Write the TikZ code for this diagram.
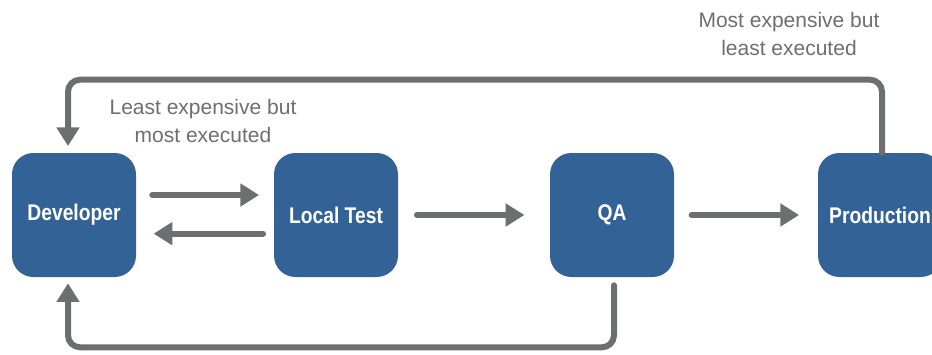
\documentclass[tikz,border=0pt]{standalone}
\usepackage{fontspec}
\setmainfont{Liberation Sans}
\newfontfamily\boxfont{Liberation Sans}[FakeStretch=0.85]
\usetikzlibrary{arrows.meta,calc,positioning}
\definecolor{boxblue}{HTML}{336296}
\definecolor{flowgray}{HTML}{6D6E70}

\begin{document}
\begin{tikzpicture}[x=0.75pt,y=-0.75pt,
  box/.style={rounded corners=16pt, minimum size=93pt, inner sep=0pt, fill=boxblue, text=white,
    font=\boxfont\bfseries\fontsize{17}{18}\selectfont},
  flow/.style={line width=4.5pt, draw=flowgray, line cap=round,
    -{Triangle[length=14pt,width=16.5pt]}},
  note/.style={align=center, text=flowgray, font=\fontsize{15.75}{21}\selectfont}]
\useasboundingbox (0,0) rectangle (932,354);
% boxes
\node[box] (dev) at (74,215) {Developer};
\node[box] (loc) at (336,215) {Local Test};
\node[box] (qa) at (612,215) {QA};
\node[box] (prod) at (880,215) {Production};
% notes
\node[note] (cheap) at (203,121) {Least expensive but\\most executed};
\node[note] (dear) at (789,34) {Most expensive but\\least executed};
% arrows
\draw[flow, shorten <=12pt, shorten >=11pt] ([yshift=15pt]dev.east) -- ([yshift=15pt]loc.west);
\draw[flow, shorten <=8pt, shorten >=13pt] ([yshift=-14pt]loc.west) -- ([yshift=-14pt]dev.east);
\draw[flow, shorten <=14pt, shorten >=19pt] (loc.east) -- (qa.west);
\draw[flow, shorten <=13pt, shorten >=14pt] (qa.east) -- (prod.west);
\draw[flow, rounded corners=9pt, shorten >=5pt] ([xshift=1.5pt]prod.north) -- ++(0,-73) -| ([xshift=-4.5pt]dev.north);
\draw[flow, rounded corners=9pt, shorten <=6pt, shorten >=4.5pt] ([xshift=1.5pt]qa.south) -- ++(0,70) -| ([xshift=-4.5pt]dev.south);
\end{tikzpicture}
\end{document}
